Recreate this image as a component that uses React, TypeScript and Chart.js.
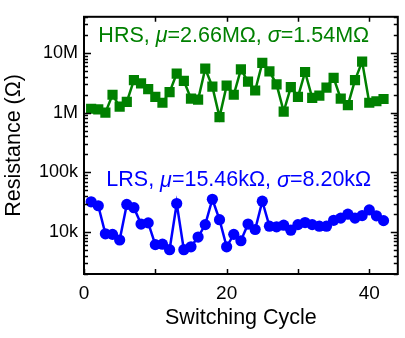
import React, { useEffect, useRef } from 'react';
import { Chart, registerables } from 'chart.js';

Chart.register(...registerables);

const cycles = [1, 2, 3, 4, 5, 6, 7, 8, 9, 10, 11, 12, 13, 14, 15, 16, 17, 18, 19, 20, 21, 22, 23, 24, 25, 26, 27, 28, 29, 30, 31, 32, 33, 34, 35, 36, 37, 38, 39, 40, 41, 42];

const hrsValues = [
  1.16e6, 1.13e6, 1.0e6, 1.99e6, 1.26e6, 1.51e6, 3.49e6, 3.09e6, 2.47e6, 1.83e6,
  1.46e6, 2.2e6, 4.49e6, 3.4e6, 1.71e6, 1.65e6, 5.42e6, 2.72e6, 0.84e6, 2.82e6,
  1.99e6, 5.28e6, 3.3e6, 2.34e6, 6.79e6, 4.9e6, 2.97e6, 1.04e6, 2.66e6, 1.83e6,
  4.77e6, 1.76e6, 1.92e6, 2.62e6, 3.81e6, 1.71e6, 1.33e6, 3.49e6, 7.13e6, 1.46e6,
  1.55e6, 1.69e6,
];

const lrsValues = [
  32.2e3, 27.7e3, 9.4e3, 9.2e3, 7.4e3, 29.1e3, 25.7e3, 13.7e3, 14.3e3, 6.2e3,
  6.3e3, 5.1e3, 30.2e3, 5.1e3, 5.7e3, 8.3e3, 13.4e3, 35.6e3, 16.2e3, 5.7e3,
  9.2e3, 7.2e3, 13.7e3, 11.1e3, 33.0e3, 12.6e3, 12.3e3, 13.1e3, 10.8e3, 13.4e3,
  14.5e3, 13.4e3, 12.6e3, 12.6e3, 15.8e3, 17.2e3, 20.0e3, 17.2e3, 19.0e3, 23.6e3,
  18.8e3, 15.6e3,
];

const xTickValues = [0, 10, 20, 30, 40];
const xTickLabels = ['0', '', '20', '', '40'];
const yDecadeValues = [1e4, 1e5, 1e6, 1e7];
const yDecadeLabels = ['10k', '100k', '1M', '10M'];

const GREEN = '#008000';
const BLUE = '#0000ff';
const FONT = '"Liberation Sans", Arial, sans-serif';

type Seg = { t: string; italic?: boolean };
const hrsLabel: Seg[] = [
  { t: 'HRS, ' }, { t: 'μ', italic: true }, { t: '=2.66MΩ, ' }, { t: 'σ', italic: true }, { t: '=1.54MΩ' },
];
const lrsLabel: Seg[] = [
  { t: 'LRS, ' }, { t: 'μ', italic: true }, { t: '=15.46kΩ, ' }, { t: 'σ', italic: true }, { t: '=8.20kΩ' },
];

function drawSegs(ctx: CanvasRenderingContext2D, segs: Seg[], cx: number, cy: number, color: string, size: number) {
  let total = 0;
  const widths = segs.map((s) => {
    ctx.font = `${s.italic ? 'italic ' : ''}${size}px ${FONT}`;
    const w = ctx.measureText(s.t).width;
    total += w;
    return w;
  });
  let x = cx - total / 2;
  ctx.fillStyle = color;
  ctx.textBaseline = 'middle';
  ctx.textAlign = 'left';
  segs.forEach((s, i) => {
    ctx.font = `${s.italic ? 'italic ' : ''}${size}px ${FONT}`;
    ctx.fillText(s.t, x, cy);
    x += widths[i];
  });
}

const framePlugin = {
  id: 'frameTicks',
  afterDraw(chart: any) {
    const { ctx, chartArea } = chart;
    const { left, right, top, bottom } = chartArea;
    const xs = chart.scales.x;
    const ys = chart.scales.y;
    ctx.save();
    ctx.strokeStyle = '#000';
    ctx.lineWidth = 1.5;
    ctx.beginPath();
    xTickValues.forEach((v) => {
      const px = Math.round(xs.getPixelForValue(v)) + 0.5;
      ctx.moveTo(px, bottom);
      ctx.lineTo(px, bottom - 5);
      ctx.moveTo(px, top);
      ctx.lineTo(px, top + 5);
    });
    for (let e = 3; e <= 7; e++) {
      for (let m = 1; m <= 9; m++) {
        const v = m * Math.pow(10, e);
        if (v < ys.min || v > ys.max) continue;
        const py = Math.round(ys.getPixelForValue(v)) + 0.5;
        const len = m === 1 ? 7 : 4;
        ctx.moveTo(left, py);
        ctx.lineTo(left + len, py);
        ctx.moveTo(right, py);
        ctx.lineTo(right - len, py);
      }
    }
    ctx.stroke();
    ctx.lineWidth = 2;
    ctx.strokeRect(left, top, right - left, bottom - top);

    drawSegs(ctx, hrsLabel, xs.getPixelForValue(21), ys.getPixelForValue(1.9e7), GREEN, 21.5);
    drawSegs(ctx, lrsLabel, xs.getPixelForValue(21.7), ys.getPixelForValue(7.3e4), BLUE, 21.5);
    ctx.restore();
  },
};

export default function App() {
  const ref = useRef<HTMLCanvasElement | null>(null);
  useEffect(() => {
    if (!ref.current) return;
    const chart = new Chart(ref.current, {
      type: 'line',
      data: {
        labels: cycles,
        datasets: [
          {
            label: 'HRS',
            data: cycles.map((c, i) => ({ x: c, y: hrsValues[i] })),
            borderColor: GREEN,
            backgroundColor: GREEN,
            borderWidth: 2.5,
            pointStyle: 'rect',
            pointRadius: 7.2,
            pointBorderWidth: 0,
            tension: 0,
          },
          {
            label: 'LRS',
            data: cycles.map((c, i) => ({ x: c, y: lrsValues[i] })),
            borderColor: BLUE,
            backgroundColor: BLUE,
            borderWidth: 2.5,
            pointStyle: 'circle',
            pointRadius: 5.6,
            pointBorderWidth: 0,
            tension: 0,
          },
        ],
      },
      options: {
        responsive: false,
        animation: false,
        layout: { padding: { left: 0, top: 10, right: 3, bottom: 0 } },
        plugins: { legend: { display: false }, tooltip: { enabled: false } },
        scales: {
          x: {
            type: 'linear',
            min: 0,
            max: 44,
            grid: { display: false, drawTicks: false },
            border: { display: false },
            afterBuildTicks: (s: any) => {
              s.ticks = xTickValues.map((v) => ({ value: v }));
            },
            afterFit: (s: any) => {
              s.height = 64;
            },
            ticks: {
              autoSkip: false,
              maxRotation: 0,
              padding: 8,
              color: '#000',
              font: { family: FONT, size: 19 },
              callback: (v: any) => {
                const i = xTickValues.indexOf(Number(v));
                return i >= 0 ? xTickLabels[i] : '';
              },
            },
            title: {
              display: true,
              text: 'Switching Cycle',
              color: '#000',
              font: { family: FONT, size: 21.5 },
              padding: { top: 0, bottom: 7 },
            },
          },
          y: {
            type: 'logarithmic',
            min: 2000,
            max: 4e7,
            grid: { display: false, drawTicks: false },
            border: { display: false },
            afterBuildTicks: (s: any) => {
              s.ticks = yDecadeValues.map((v) => ({ value: v, major: true }));
            },
            afterFit: (s: any) => {
              s.width = 84;
            },
            ticks: {
              autoSkip: false,
              padding: 6,
              color: '#000',
              font: { family: FONT, size: 18 },
              callback: (v: any) => {
                const i = yDecadeValues.indexOf(Number(v));
                return i >= 0 ? yDecadeLabels[i] : '';
              },
            },
            title: {
              display: true,
              text: 'Resistance (Ω)',
              color: '#000',
              font: { family: FONT, size: 21.5 },
              padding: { top: 1, bottom: 0 },
            },
          },
        },
      },
      plugins: [framePlugin],
    });
    return () => chart.destroy();
  }, []);
  return (
    <div style={{ position: 'fixed', left: 0, top: 0, width: 405, height: 338, background: '#fff' }}>
      <canvas ref={ref} width={405} height={338} style={{ display: 'block' }} />
    </div>
  );
}
